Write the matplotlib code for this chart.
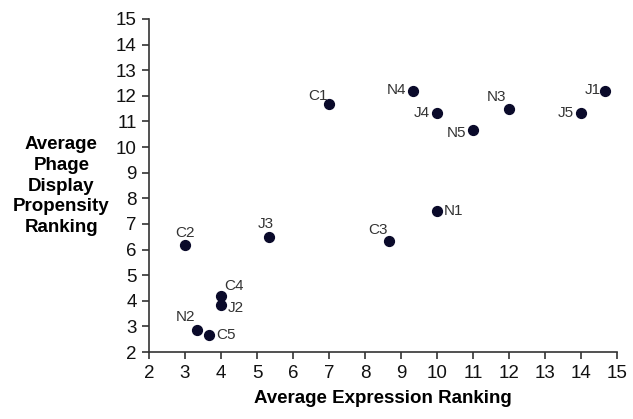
import matplotlib
matplotlib.use("Agg")
import matplotlib.pyplot as plt

labels = ["C1", "N4", "J4", "N5", "N3", "J5", "J1", "N1", "C3", "J3", "C2", "C4", "J2", "N2", "C5"]
expr = [7.0, 9.33, 10.0, 11.0, 12.0, 14.0, 14.67, 10.0, 8.67, 5.33, 3.0, 4.0, 4.0, 3.33, 3.67]
phage = [11.67, 12.17, 11.33, 10.67, 11.5, 11.33, 12.17, 7.5, 6.33, 6.5, 6.17, 4.2, 3.83, 2.86, 2.67]
# label offsets in points (dx, dy, ha, va)
offsets = {
    "C1": (-1, 1, "right", "bottom"),
    "N4": (-5, 1, "right", "center"),
    "J4": (-5, 0, "right", "center"),
    "N5": (-5, -2, "right", "center"),
    "N3": (-2, 3, "right", "bottom"),
    "J5": (-5, 0, "right", "center"),
    "J1": (-3, 1, "right", "center"),
    "N1": (5, 0, "left", "center"),
    "C3": (-1, 3, "right", "bottom"),
    "J3": (-2, 4, "center", "bottom"),
    "C2": (0, 4, "center", "bottom"),
    "C4": (2, 2, "left", "bottom"),
    "J2": (5, -2, "left", "center"),
    "N2": (-1, 4, "right", "bottom"),
    "C5": (5, 0, "left", "center"),
}

plt.rcParams['font.family'] = ['Liberation Sans', 'DejaVu Sans']
fig = plt.figure(figsize=(6.33, 4.19), dpi=100)
ax = fig.add_axes([0.2354, 0.1599, 0.9747 - 0.2354, 0.9547 - 0.1599])
ax.scatter(expr, phage, s=50, color="#0a0a2a", zorder=3, clip_on=False)
for lab, x, y in zip(labels, expr, phage):
    dx, dy, ha, va = offsets[lab]
    ax.annotate(lab, (x, y), xytext=(dx, dy), textcoords="offset points",
                ha=ha, va=va, fontsize=11, color="#333333")

ax.set_xlim(2, 15)
ax.set_ylim(2, 15)
ax.set_xticks(range(2, 16))
ax.set_yticks(range(2, 16))
ax.spines["top"].set_visible(False)
ax.spines["right"].set_visible(False)
for s in ("left", "bottom"):
    ax.spines[s].set_color("#333333")
    ax.spines[s].set_linewidth(1.2)
ax.tick_params(direction="out", length=5, width=1.2, colors="#333333", labelsize=13.5,
               labelcolor="#111111", pad=4)
ax.set_xlabel("Average Expression Ranking", fontsize=13.5, fontweight="bold", labelpad=6)
fig.text(0.097, 0.556, "Average\nPhage\nDisplay\nPropensity\nRanking", ha="center", va="center",
         fontsize=13.5, fontweight="bold", linespacing=1.28)
fig.savefig("out.png", dpi=100)
